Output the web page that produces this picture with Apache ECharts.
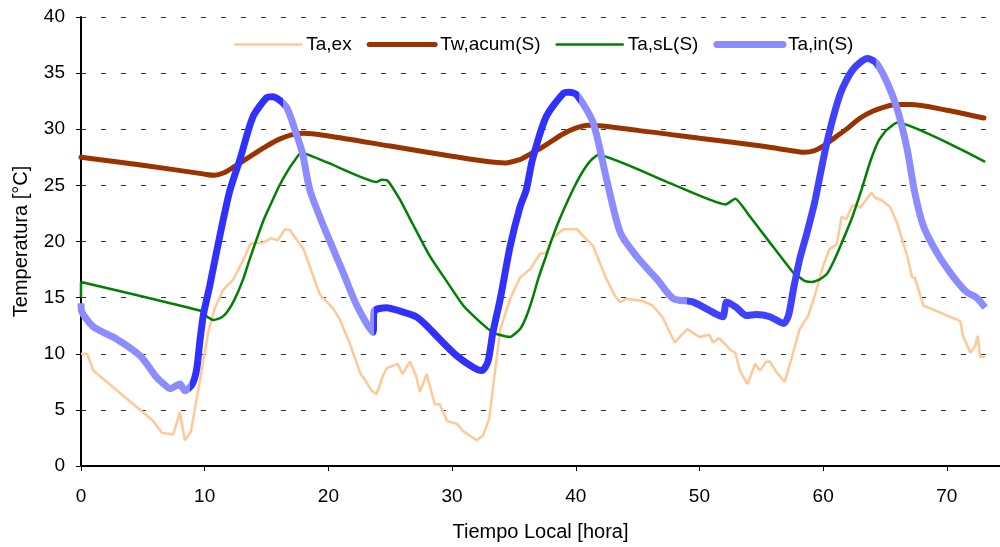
<!DOCTYPE html>
<html><head><meta charset="utf-8">
<script src="https://cdn.jsdelivr.net/npm/echarts@6/dist/echarts.min.js"></script>
<style>html,body{margin:0;padding:0;background:#fff}#c{width:1000px;height:547px}</style>
</head><body><div id="c"></div>
<script>
const seriesNames = ['Ta,ex', 'Tw,acum(S)', 'Ta,sL(S)', 'Ta,in(S)'];
const xTitle = 'Tiempo Local [hora]';
const yTitle = 'Temperatura [°C]';

const taExX = [0,0.5,1.0,5.8,6.55,7.45,8.0,8.4,8.9,9.35,9.6,10.3,10.8,11.5,12.3,13.1,13.7,14.7,15.4,15.9,16.5,16.9,18.0,19.3,20.4,20.9,21.7,22.6,22.95,23.5,23.9,24.4,24.7,25.6,26.0,26.6,27.1,27.4,27.95,28.6,29.0,29.6,30.4,30.9,32.0,32.5,33.0,33.3,33.9,34.7,35.5,36.3,37.1,37.6,38.1,39.0,40.1,40.6,41.4,42.5,43.2,43.6,44.1,45.4,46.2,47.0,48.0,49.0,50.0,50.8,51.1,51.6,52.6,52.9,53.3,53.9,54.5,54.9,55.4,55.7,56.2,56.9,57.5,58.1,58.8,59.3,60.0,60.5,61.1,61.5,61.9,62.3,62.7,63.0,63.4,63.9,64.2,64.7,65.4,66.0,66.8,67.2,67.4,68.1,71.1,71.3,71.9,72.3,72.5,72.7,73.1];
const taExY = [10.0,10.0,8.5,4.05,2.95,2.8,4.8,2.3,3.1,6.0,7.5,12.0,14.0,15.7,16.6,18.3,19.8,19.9,20.3,20.1,21.1,21.0,19.3,15.3,14.0,13.1,11.0,8.2,7.7,6.7,6.4,8.0,8.7,9.1,8.2,9.3,8.0,6.6,8.2,5.5,5.5,4.0,3.75,3.1,2.3,2.7,4.2,6.9,12.2,14.9,16.8,17.5,18.9,19.0,20.3,21.1,21.1,20.5,19.6,16.6,15.1,14.6,14.9,14.7,14.3,13.3,11.0,12.2,11.5,11.7,11.0,11.4,10.25,10.1,8.4,7.3,9.1,8.5,9.3,9.3,8.4,7.5,9.8,12.2,13.4,15.1,17.8,19.3,19.75,22.2,22.0,23.1,23.3,23.0,23.6,24.35,23.9,23.7,23.1,21.6,18.7,16.8,16.8,14.3,12.9,11.6,10.1,10.7,11.6,9.7,9.7];

const twAcumX = [0,5,10,10.8,11.5,12.3,13,14,15,16,17,18,20,25,30,33,34.3,35.5,36,37,38,39,40,41,45,50,55,58,58.5,59.3,60,61,62,63,64,65,66,67,70,73];
const twAcumY = [27.5,26.8,26.0,25.9,26.1,26.6,27.1,27.8,28.5,29.1,29.5,29.65,29.4,28.5,27.6,27.1,27.0,27.3,27.6,28.2,28.9,29.6,30.1,30.35,29.9,29.2,28.5,28.0,27.95,28.1,28.5,29.3,30.1,31.0,31.6,32.0,32.2,32.2,31.7,31.0];

const taSlX = [0,0,9.8,10.2,10.7,11.3,11.8,12.4,13.1,13.6,14.2,14.8,15.5,16.0,16.6,17.2,17.8,20,23.9,24.3,24.8,25.8,26.8,28.2,29.6,30.9,32.3,33.3,33.8,34.7,35.5,36.0,36.5,37.0,37.6,38.1,38.7,39.3,39.9,40.6,41.2,41.8,47.6,52.1,52.9,54.1,55.7,57.6,58.0,58.5,59.1,59.7,60.3,60.8,61.4,62.3,63.1,63.6,64.0,64.5,65.1,66.0,73.1];
const taSlY = [15.0,16.4,13.8,13.3,13.0,13.2,13.7,14.8,16.6,18.3,20.2,22.0,23.7,24.9,26.1,27.1,27.9,27.0,25.3,25.5,25.4,23.7,21.6,18.7,16.4,14.3,12.8,11.9,11.7,11.5,12.2,13.3,14.9,16.8,18.7,20.3,22.0,23.5,24.9,26.3,27.2,27.7,25.2,23.3,23.8,22.2,19.9,17.2,16.9,16.5,16.4,16.6,17.1,18.1,19.6,22.0,24.6,26.4,27.7,29.0,29.9,30.6,27.1];

const taInX = [0,0.05,1.0,2.9,4.8,6.1,6.6,7.2,8.0,8.4,9.0,9.35,9.6,9.9,10.4,11.0,12.0,12.85,13.9,15.0,15.5,16.6,17.4,17.9,18.5,19.6,20.4,21.2,22.3,23.6,23.7,24.7,25.8,27.1,27.95,29.0,30.4,31.7,32.4,32.9,33.3,33.9,34.7,35.5,36.0,36.5,37.6,39.0,39.5,40.1,41.4,42.5,43.6,44.9,46.6,47.9,49.5,51.4,51.9,52.2,53.0,53.8,54.6,55.7,56.8,57.2,57.6,58.1,58.7,59.3,60.3,61.4,62.4,63.6,64.3,65.2,66.0,66.8,67.4,68.1,69.2,70.5,71.6,72.4,73.1];
const taInY = [14.5,13.8,12.4,11.3,9.8,7.9,7.4,6.9,7.3,6.7,7.3,8.6,11.0,13.5,16.0,19.3,24.4,27.3,31.1,32.8,32.9,32.0,29.6,27.9,24.6,21.4,19.3,17.2,14.3,11.9,13.8,14.1,13.8,13.3,12.5,11.3,9.8,8.8,8.5,9.3,11.9,14.9,19.6,23.1,24.6,27.3,31.1,33.2,33.3,33.05,30.6,25.5,20.8,18.7,16.6,14.9,14.6,13.5,13.3,14.6,14.1,13.4,13.5,13.3,12.7,13.4,15.75,18.4,20.8,23.4,28.8,33.2,35.3,36.3,35.9,34.1,31.75,28.2,24.4,21.4,19.0,16.9,15.5,15.0,14.1];

const xTicks = [0,10,20,30,40,50,60,70];
const yTicks = [0,5,10,15,20,25,30,35,40];

function pairs(xs, ys) { return xs.map((x, i) => [x, ys[i]]); }

const font = 'Arial, "Liberation Sans", sans-serif';
const chart = echarts.init(document.getElementById('c'), null, {renderer: 'canvas'});
chart.setOption({
  animation: false,
  backgroundColor: '#fff',
  textStyle: {fontFamily: font},
  grid: {left: 81, right: 0, top: 17, bottom: 80, containLabel: false},
  legend: {
    left: 229, top: 30, itemGap: 15, itemWidth: 66, itemHeight: 14,
    itemStyle: {opacity: 0},
    lineStyle: {width: 'inherit', cap: 'round'},
    textStyle: {fontSize: 19, color: '#000', fontFamily: font},
    data: seriesNames
  },
  visualMap: {
    show: false, type: 'piecewise', seriesIndex: 3, dimension: 0,
    pieces: [
      {gte: -1, lt: 8.8, color: '#8c8cff'},
      {gte: 8.8, lt: 16.3, color: '#3030ff'},
      {gte: 16.3, lt: 23.65, color: '#8c8cff'},
      {gte: 23.65, lt: 40.3, color: '#3030ff'},
      {gte: 40.3, lt: 49, color: '#8c8cff'},
      {gte: 49, lt: 64.3, color: '#4040ff'},
      {gte: 64.3, lt: 80, color: '#8c8cff'}
    ]
  },
  xAxis: [{
    type: 'value', min: 0, max: 74.3, interval: 10,
    name: xTitle, nameLocation: 'middle', nameGap: 56,
    nameTextStyle: {fontSize: 20, color: '#000', fontFamily: font},
    axisLine: {show: true, onZero: false, lineStyle: {color: '#000', width: 2}},
    axisTick: {show: true, length: 5, lineStyle: {color: '#000', width: 1}},
    axisLabel: {fontSize: 19, color: '#000', margin: 21, fontFamily: font,
      formatter: v => xTicks.includes(v) ? String(v) : '', showMaxLabel: false},
    splitLine: {show: false}
  }, {
    type: 'value', position: 'top', min: 0, max: 74.3,
    axisLine: {show: true, lineStyle: {color: '#000', width: 2}},
    axisTick: {show: false}, axisLabel: {show: false}, splitLine: {show: false}
  }],
  yAxis: {
    type: 'value', min: 0, max: 40, interval: 5,
    name: yTitle, nameLocation: 'middle', nameGap: 50,
    nameTextStyle: {fontSize: 20, color: '#000', fontFamily: font},
    axisLine: {show: true, lineStyle: {color: '#000', width: 2}},
    axisTick: {show: true, inside: false, length: 5, lineStyle: {color: '#000', width: 1}},
    axisLabel: {fontSize: 19, color: '#000', margin: 16, fontFamily: font,
      formatter: v => yTicks.includes(v) ? String(v) : ''},
    splitLine: {show: true, lineStyle: {color: '#333', width: 1, type: [5, 15]}}
  },
  series: [
    {name: seriesNames[0], type: 'line', symbol: 'none', data: pairs(taExX, taExY),
      itemStyle: {color: '#ffc896'}, lineStyle: {color: '#ffc896', width: 2.5}},
    {name: seriesNames[1], type: 'line', symbol: 'none', data: pairs(twAcumX, twAcumY), smooth: 0.3,
      itemStyle: {color: '#993300'}, lineStyle: {color: '#993300', width: 5, cap: 'round'}},
    {name: seriesNames[2], type: 'line', symbol: 'none', data: pairs(taSlX, taSlY),
      smooth: 0.15,
      itemStyle: {color: '#008000'}, lineStyle: {color: '#008000', width: 2.5}},
    {name: seriesNames[3], type: 'line', symbol: 'none', data: pairs(taInX, taInY),
      smooth: 0.25,
      itemStyle: {color: '#8c8cff'}, lineStyle: {width: 7}}
  ]
});
</script></body></html>
